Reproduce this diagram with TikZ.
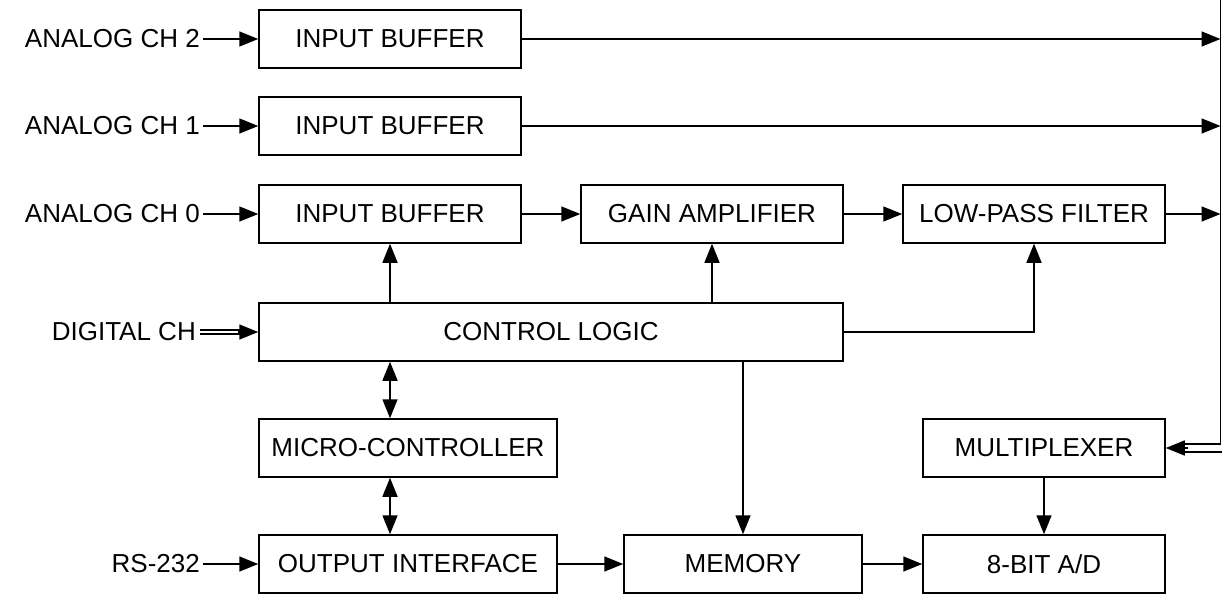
\documentclass[tikz,border=0pt]{standalone}
\usepackage{fontspec}
\setmainfont{Liberation Sans}
\usetikzlibrary{arrows.meta,calc}
\begin{document}
\begin{tikzpicture}[x=1pt,y=-1pt,
  box/.style={draw,line width=1.5pt,inner sep=0pt,font=\fontsize{26}{30}\selectfont},
  lbl/.style={inner sep=0pt,anchor=east,font=\fontsize{26}{30}\selectfont},
  arr/.style={line width=1.5pt,-{Triangle[length=19pt,width=15pt]}},
  barr/.style={line width=1.5pt,{Triangle[length=19pt,width=15pt]}-{Triangle[length=19pt,width=15pt]}},
  ln/.style={line width=1.5pt},
  dbl/.style={line width=1.2pt,double,double distance=2.8pt}]
\useasboundingbox (0,0) rectangle (1222,597);
\fill[white] (0,0) rectangle (1222,597);
% boxes
\node[box,minimum width=262pt,minimum height=58pt] (ib2) at (390,39) {INPUT BUFFER};
\node[box,minimum width=262pt,minimum height=58pt] (ib1) at (390,126) {INPUT BUFFER};
\node[box,minimum width=262pt,minimum height=58pt] (ib0) at (390,214) {INPUT BUFFER};
\node[box,minimum width=262pt,minimum height=58pt] (gain) at (712,214) {GAIN AMPLIFIER};
\node[box,minimum width=262pt,minimum height=58pt] (lpf) at (1034,214) {LOW-PASS FILTER};
\node[box,minimum width=584pt,minimum height=58pt] (cl) at (551,332) {CONTROL LOGIC};
\node[box,minimum width=298pt,minimum height=58pt] (mc) at (408,448) {MICRO-CONTROLLER};
\node[box,minimum width=298pt,minimum height=58pt] (oi) at (408,564) {OUTPUT INTERFACE};
\node[box,minimum width=238pt,minimum height=58pt] (mem) at (743,564) {MEMORY};
\node[box,minimum width=242pt,minimum height=58pt] (mux) at (1044,448) {MULTIPLEXER};
\node[box,minimum width=242pt,minimum height=58pt] (ad) at (1044,564) {8-BIT A/D};
% left labels
\node[lbl] (a2) at (200,39) {ANALOG CH 2};
\node[lbl] (a1) at (200,126) {ANALOG CH 1};
\node[lbl] (a0) at (200,214) {ANALOG CH 0};
\node[lbl] (dig) at (196,332) {DIGITAL CH};
\node[lbl] (rs) at (200,564) {RS-232};
% inputs
\draw[arr] ([xshift=3pt]a2.east) -- (ib2.west);
\draw[arr] ([xshift=3pt]a1.east) -- (ib1.west);
\draw[arr] ([xshift=3pt]a0.east) -- (ib0.west);
\draw[arr] ([xshift=3pt]rs.east) -- (oi.west);
\draw[dbl] ([xshift=4pt]dig.east) -- ([xshift=-16pt]cl.west);
\draw[arr] ([xshift=-20pt]cl.west) -- (cl.west);
% signal chain
\draw[arr] (ib0.east) -- (gain.west);
\draw[arr] (gain.east) -- (lpf.west);
\draw[arr] (oi.east) -- (mem.west);
\draw[arr] (mem.east) -- (ad.west);
\draw[arr] (mux.south) -- (ad.north);
% control
\draw[arr] (cl.north -| ib0.south) -- (ib0.south);
\draw[arr] (cl.north -| gain.south) -- (gain.south);
\draw[arr] (cl.east) -| (lpf.south);
\draw[arr] (cl.south -| mem.north) -- (mem.north);
\draw[barr] (cl.south -| ib0.south) -- (mc.north -| ib0.south);
\draw[barr] (mc.south -| ib0.south) -- (oi.north -| ib0.south);
% bus
\coordinate (bt) at (1220.5,0);
\coordinate (bb) at (1220.5,444);
\coordinate (bb2) at (1222,452);
\draw[arr] (ib2.east) -- (ib2.east -| bt);
\draw[arr] (ib1.east) -- (ib1.east -| bt);
\draw[arr] (lpf.east) -- (lpf.east -| bt);
\draw[ln] (bt) -- (bb) -- ([xshift=18pt,yshift=4pt]mux.east);
\draw[ln] (bb2) -- ([xshift=18pt,yshift=-4pt]mux.east);
\draw[arr] ([xshift=22pt]mux.east) -- (mux.east);
\end{tikzpicture}
\end{document}
